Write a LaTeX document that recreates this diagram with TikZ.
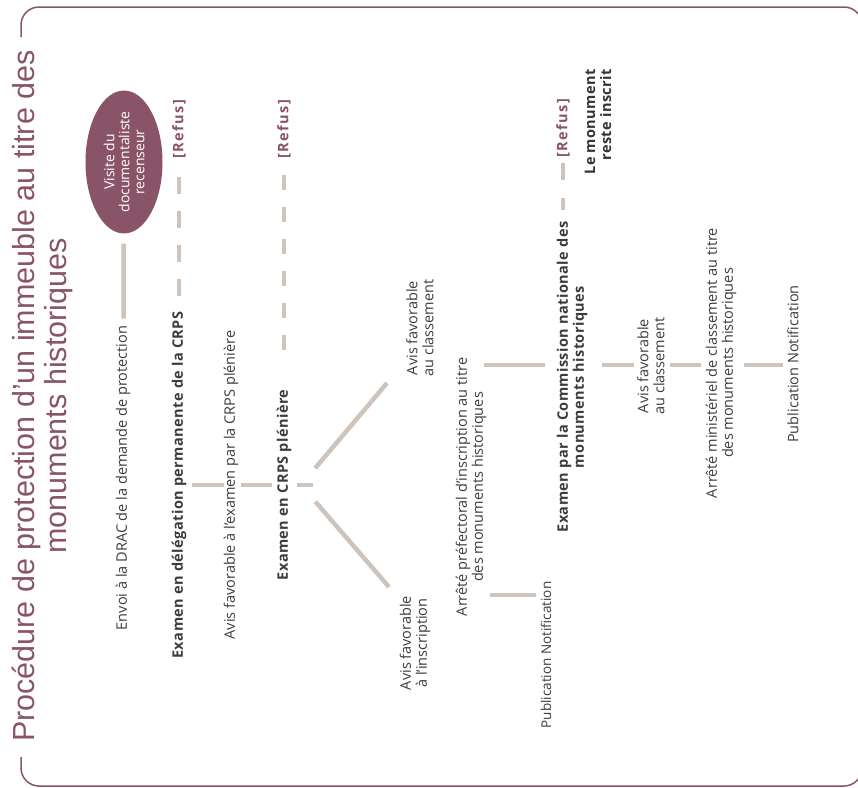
\documentclass[tikz,border=0pt]{standalone}
\usepackage{fontspec}
\setmainfont{Open Sans}
\newfontfamily\titrefont{Liberation Sans}
\usetikzlibrary{shapes.geometric}
\definecolor{mauve}{HTML}{8A5468}
\definecolor{beige}{HTML}{CFC4BB}
\definecolor{texte}{HTML}{3C3C3C}

\begin{document}
\begin{tikzpicture}[x=1pt,y=-1pt,
	txt/.style={rotate=90,align=center,text=texte,inner sep=0pt,font=\fontsize{14.5}{16}\selectfont},
	gras/.style={txt,font=\fontsize{14.5}{16}\selectfont\bfseries\addfontfeature{LetterSpace=3}},
	refus/.style={gras,text=mauve,font=\fontsize{14.5}{16}\selectfont\bfseries\addfontfeature{LetterSpace=10}},
	link/.style={draw=beige,line width=4.5pt},
	tirets/.style={link,line width=4pt,dash pattern=on 17pt off 17pt}]
	\useasboundingbox (0,0) rectangle (858,787);
	
	% cadre et titre
	\draw[mauve,line width=1.5pt,rounded corners=18pt] (21,37) -- (21,7) -- (862,7) -- (862,786) -- (21,786) -- (21,757);
	\node[rotate=90,align=center,inner sep=0pt,text=mauve,font=\titrefont\fontsize{30.5}{32}\selectfont] (titre) at (42.5,396) {Procédure de protection d’un immeuble au titre des\\monuments historiques};
	
	\node[ellipse,fill=mauve,rotate=90,minimum width=138pt,minimum height=77pt,inner sep=0pt,align=center,text=white,font=\fontsize{14}{15}\selectfont] (visite) at (124,162) {Visite du\\documentaliste\\recenseur};
	\node[txt] (envoi) at (123,478) {Envoi à la DRAC de la demande de protection};
	\node[gras] (deleg) at (179,485) {Examen en délégation permanente de la CRPS};
	\node[refus] (refus1) at (179,129) {[Refus]};
	\node[txt] (avisexam) at (231,485) {Avis favorable à l’examen par la CRPS plénière};
	\node[gras] (pleniere) at (284,485) {Examen en CRPS plénière};
	\node[refus] (refus2) at (284,129) {[Refus]};
	
	\node[txt] (avisclass) at (420,328) {Avis favorable\\au classement};
	\node[txt] (avisinsc) at (415,643) {Avis favorable\\à l’inscription};
	\node[txt] (arrpref) at (471,487) {Arrêté préfectoral d’inscription au titre\\des monuments historiques};
	\node[txt,font=\fontsize{13.5}{15}\selectfont] (pubinsc) at (546,655) {Publication Notification};
	
	\node[gras] (commission) at (572,377) {Examen par la Commission nationale des\\monuments historiques};
	\node[refus] (refus3) at (563,128) {[Refus]};
	\node[gras,align=right,anchor=east,text=black!80] (reste) at (598,69) {Le monument\\reste inscrit};
	\node[txt] (avisclass2) at (651,366) {Avis favorable\\au classement};
	\node[txt] (arrmin) at (721,363) {Arrêté ministériel de classement au titre\\des monuments historiques};
	\node[txt] (pubclass) at (793,364) {Publication Notification};
	
	\coordinate (pivot) at (301,485);
	\coordinate (vclass) at (387,383);
	\coordinate (vinsc) at (389,587);
	\coordinate (ligne) at (0,365);
	\coordinate (ligne2) at (0,595);
	
	\draw[link,shorten <=10pt,shorten >=7pt] (visite) -- (envoi);
	\draw[tirets,shorten <=18pt] (refus1) -- (refus1 |- deleg.east);
	\draw[tirets,dash pattern=on 15pt off 17pt,shorten <=16pt,shorten >=36pt] (refus2) -- (refus2 |- pleniere.east);
	\draw[tirets,dash pattern=on 17pt off 18pt,shorten <=5pt,shorten >=11pt] (refus3) -- (refus3 |- commission.east);
	\foreach \a/\b/\s/\e in {deleg/avisexam/6/0,avisexam/pleniere/2/5}
	{
		\draw[link,shorten <=\s pt,shorten >=\e pt] (\a) -- (\b);
	}
	\draw[link,shorten <=5pt,shorten >=-12pt] (pleniere) -- (pivot);
	\draw[link,shorten <=22pt] (pivot) -- (vclass);
	\draw[link,shorten <=22pt] (pivot) -- (vinsc);
	\foreach \a/\b/\s/\e in {arrpref/commission/-3/12,commission/avisclass2/15/3,avisclass2/arrmin/5/5,arrmin/pubclass/7/4}
	{
		\draw[link,shorten <=\s pt,shorten >=\e pt] (\a.south |- ligne) -- (\b.north |- ligne);
	}
	\draw[link,shorten <=3pt,shorten >=5pt] (arrpref.south |- ligne2) -- (pubinsc.north |- ligne2);
\end{tikzpicture}
\end{document}
